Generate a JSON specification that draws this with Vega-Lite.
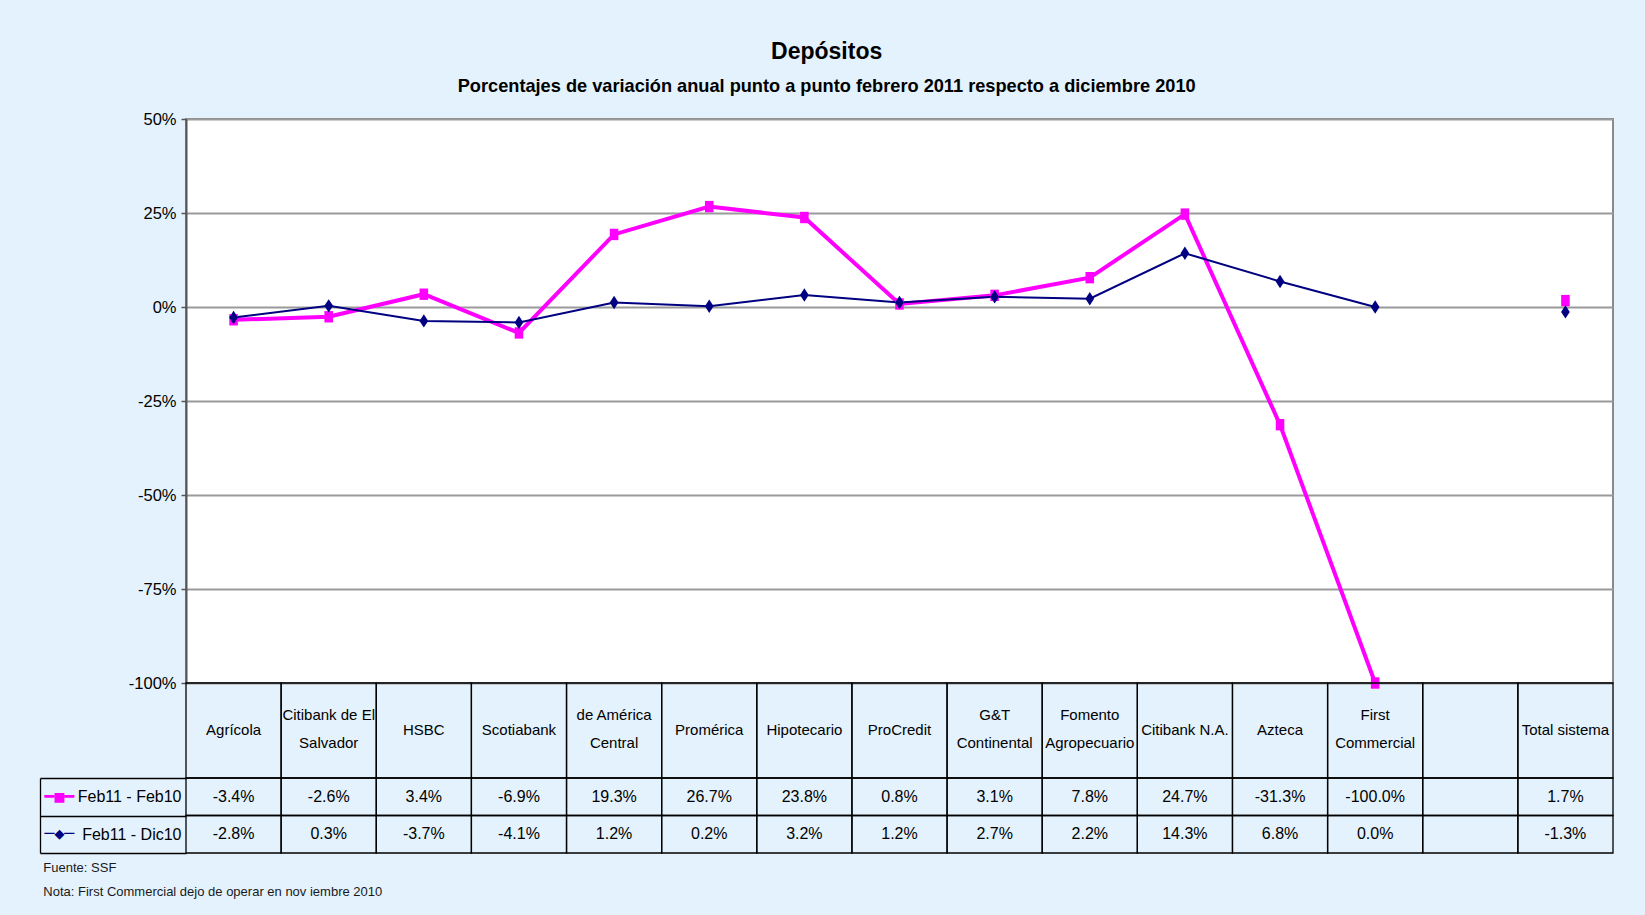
{
  "$schema": "https://vega.github.io/schema/vega-lite/v6.json",
  "background": "#e3f2fd",
  "padding": {"left": 39, "top": 40, "right": 32, "bottom": 16},
  "bounds": "flush",
  "title": {
    "text": "Depósitos",
    "subtitle": "Porcentajes de variación anual punto a punto febrero 2011 respecto a diciembre 2010",
    "anchor": "middle",
    "frame": "bounds",
    "font": "Liberation Sans",
    "subtitleFont": "Liberation Sans",
    "fontSize": 23,
    "fontWeight": "bold",
    "subtitleFontSize": 18.2,
    "subtitleFontWeight": "bold",
    "color": "black",
    "subtitleColor": "black",
    "subtitlePadding": 14,
    "offset": 15
  },
  "datasets": {
    "banks": [
      {"bank": "Agrícola", "serie": "Feb11 - Feb10", "value": -3.4},
      {"bank": "Citibank de El\nSalvador", "serie": "Feb11 - Feb10", "value": -2.6},
      {"bank": "HSBC", "serie": "Feb11 - Feb10", "value": 3.4},
      {"bank": "Scotiabank", "serie": "Feb11 - Feb10", "value": -6.9},
      {"bank": "de América\nCentral", "serie": "Feb11 - Feb10", "value": 19.3},
      {"bank": "Promérica", "serie": "Feb11 - Feb10", "value": 26.7},
      {"bank": "Hipotecario", "serie": "Feb11 - Feb10", "value": 23.8},
      {"bank": "ProCredit", "serie": "Feb11 - Feb10", "value": 0.8},
      {"bank": "G&T\nContinental", "serie": "Feb11 - Feb10", "value": 3.1},
      {"bank": "Fomento\nAgropecuario", "serie": "Feb11 - Feb10", "value": 7.8},
      {"bank": "Citibank N.A.", "serie": "Feb11 - Feb10", "value": 24.7},
      {"bank": "Azteca", "serie": "Feb11 - Feb10", "value": -31.3},
      {"bank": "First\nCommercial", "serie": "Feb11 - Feb10", "value": -100.0},
      {"bank": " ", "serie": "Feb11 - Feb10", "value": null},
      {"bank": "Total sistema", "serie": "Feb11 - Feb10", "value": 1.7},
      {"bank": "Agrícola", "serie": "Feb11 - Dic10", "value": -2.8},
      {"bank": "Citibank de El\nSalvador", "serie": "Feb11 - Dic10", "value": 0.3},
      {"bank": "HSBC", "serie": "Feb11 - Dic10", "value": -3.7},
      {"bank": "Scotiabank", "serie": "Feb11 - Dic10", "value": -4.1},
      {"bank": "de América\nCentral", "serie": "Feb11 - Dic10", "value": 1.2},
      {"bank": "Promérica", "serie": "Feb11 - Dic10", "value": 0.2},
      {"bank": "Hipotecario", "serie": "Feb11 - Dic10", "value": 3.2},
      {"bank": "ProCredit", "serie": "Feb11 - Dic10", "value": 1.2},
      {"bank": "G&T\nContinental", "serie": "Feb11 - Dic10", "value": 2.7},
      {"bank": "Fomento\nAgropecuario", "serie": "Feb11 - Dic10", "value": 2.2},
      {"bank": "Citibank N.A.", "serie": "Feb11 - Dic10", "value": 14.3},
      {"bank": "Azteca", "serie": "Feb11 - Dic10", "value": 6.8},
      {"bank": "First\nCommercial", "serie": "Feb11 - Dic10", "value": 0.0},
      {"bank": " ", "serie": "Feb11 - Dic10", "value": null},
      {"bank": "Total sistema", "serie": "Feb11 - Dic10", "value": -1.3}
    ],
    "cols": [
      {"bank": "Agrícola"}, {"bank": "Citibank de El\nSalvador"}, {"bank": "HSBC"}, {"bank": "Scotiabank"},
      {"bank": "de América\nCentral"}, {"bank": "Promérica"}, {"bank": "Hipotecario"}, {"bank": "ProCredit"},
      {"bank": "G&T\nContinental"}, {"bank": "Fomento\nAgropecuario"}, {"bank": "Citibank N.A."}, {"bank": "Azteca"},
      {"bank": "First\nCommercial"}, {"bank": " "}, {"bank": "Total sistema"}
    ]
  },
  "spacing": 0,
  "vconcat": [
    {
      "width": 1427,
      "height": 564,
      "view": {"stroke": "#8a8a8a", "strokeWidth": 2, "fill": "white"},
      "data": {"name": "banks"},
      "transform": [{"filter": "isValid(datum.value)"}],
      "encoding": {
        "x": {
          "field": "bank", "type": "nominal", "sort": null,
          "scale": {"type": "point", "padding": 0.5, "domain": ["Agrícola", "Citibank de El\nSalvador", "HSBC", "Scotiabank", "de América\nCentral", "Promérica", "Hipotecario", "ProCredit", "G&T\nContinental", "Fomento\nAgropecuario", "Citibank N.A.", "Azteca", "First\nCommercial", " ", "Total sistema"]},
          "axis": null
        },
        "y": {
          "field": "value", "type": "quantitative",
          "scale": {"domain": [-100, 50], "nice": false, "zero": false},
          "axis": {
            "title": null,
            "values": [-100, -75, -50, -25, 0, 25, 50],
            "labelExpr": "datum.value + '%'",
            "labelFont": "Liberation Sans",
            "labelFontSize": 16.5,
            "labelColor": "black",
            "labelPadding": 5,
            "grid": true,
            "gridColor": "#9a9a9a",
            "gridWidth": 1.8,
            "domainColor": "#555555",
            "domainWidth": 2,
            "tickColor": "#555555",
            "tickSize": 5,
            "tickWidth": 1.5
          }
        }
      },
      "layer": [
        {
          "transform": [{"filter": "datum.serie == 'Feb11 - Feb10' && datum.bank != 'Total sistema'"}],
          "mark": {"type": "line", "color": "#ff00ff", "strokeWidth": 4}
        },
        {
          "transform": [{"filter": "datum.serie == 'Feb11 - Dic10' && datum.bank != 'Total sistema'"}],
          "mark": {"type": "line", "color": "#000080", "strokeWidth": 2}
        },
        {
          "transform": [{"filter": "datum.serie == 'Feb11 - Feb10'"}],
          "mark": {"type": "point", "filled": true, "opacity": 1, "color": "#ff00ff", "shape": "M-0.75,-1H0.75V1H-0.75Z", "size": 130}
        },
        {
          "transform": [{"filter": "datum.serie == 'Feb11 - Dic10'"}],
          "mark": {"type": "point", "filled": true, "opacity": 1, "color": "#000080", "shape": "M0,-1L0.65,0L0,1L-0.65,0Z", "size": 180}
        }
      ]
    },
    {
      "width": 1427,
      "height": 95,
      "view": {"stroke": null},
      "data": {"name": "cols"},
      "encoding": {
        "x": {
          "field": "bank", "type": "nominal", "sort": null,
          "scale": {"type": "band", "paddingInner": 0, "paddingOuter": 0, "domain": ["Agrícola", "Citibank de El\nSalvador", "HSBC", "Scotiabank", "de América\nCentral", "Promérica", "Hipotecario", "ProCredit", "G&T\nContinental", "Fomento\nAgropecuario", "Citibank N.A.", "Azteca", "First\nCommercial", " ", "Total sistema"]},
          "axis": null
        }
      },
      "layer": [
        {"mark": {"type": "rect", "fillOpacity": 0, "stroke": "black", "strokeWidth": 1.3}},
        {
          "transform": [{"filter": "indexof(datum.bank, '\\n') < 0"}],
          "mark": {"type": "text", "fontSize": 15, "color": "black", "baseline": "middle", "dy": -1, "font": "Liberation Sans"},
          "encoding": {"text": {"field": "bank"}}
        },
        {
          "transform": [{"filter": "indexof(datum.bank, '\\n') >= 0"}],
          "mark": {"type": "text", "lineBreak": "\n", "lineHeight": 28, "fontSize": 15, "color": "black", "baseline": "middle", "dy": -16, "font": "Liberation Sans"},
          "encoding": {"text": {"field": "bank"}}
        }
      ]
    },
    {
      "width": 1427,
      "height": 75,
      "view": {"stroke": null},
      "data": {"name": "banks"},
      "title": {
        "text": ["Fuente: SSF", "Nota: First Commercial dejo de operar en nov iembre 2010"],
        "orient": "bottom",
        "anchor": "start",
        "frame": "bounds",
        "font": "Liberation Sans",
        "fontSize": 13,
        "fontWeight": "normal",
        "color": "#1a1a1a",
        "lineHeight": 24,
        "offset": 8,
        "dx": 4
      },
      "transform": [
        {"calculate": "isValid(datum.value) ? replace(format(datum.value, '.1f'), '\u2212', '-') + '%' : ''", "as": "label"}
      ],
      "encoding": {
        "x": {
          "field": "bank", "type": "nominal", "sort": null,
          "scale": {"type": "band", "paddingInner": 0, "paddingOuter": 0, "domain": ["Agrícola", "Citibank de El\nSalvador", "HSBC", "Scotiabank", "de América\nCentral", "Promérica", "Hipotecario", "ProCredit", "G&T\nContinental", "Fomento\nAgropecuario", "Citibank N.A.", "Azteca", "First\nCommercial", " ", "Total sistema"]},
          "axis": null
        }
      },
      "layer": [
        {
          "mark": {"type": "rect", "fillOpacity": 0, "stroke": "black", "strokeWidth": 1.3},
          "encoding": {
            "y": {
              "field": "serie", "type": "nominal", "sort": null,
              "scale": {"type": "band", "paddingInner": 0, "paddingOuter": 0, "domain": ["Feb11 - Feb10", "Feb11 - Dic10"]},
              "axis": {
                "title": null,
                "orient": "left",
                "offset": 146,
                "domain": true,
                "domainColor": "black",
                "domainWidth": 1.3,
                "ticks": true,
                "tickBand": "extent",
                "tickSize": -146,
                "tickColor": "black",
                "tickWidth": 1.3,
                "labels": true,
                "labelAlign": "right",
                "labelBaseline": "middle",
                "labelPadding": 5,
                "labelFont": "Liberation Sans",
                "labelFontSize": 16,
                "labelColor": "black",
                "grid": false
              }
            }
          }
        },
        {
          "mark": {"type": "text", "fontSize": 16, "color": "black", "baseline": "middle", "font": "Liberation Sans"},
          "encoding": {
            "text": {"field": "label"},
            "y": {
              "field": "serie", "type": "nominal", "sort": null,
              "scale": {"type": "band", "paddingInner": 0, "paddingOuter": 0, "domain": ["Feb11 - Feb10", "Feb11 - Dic10"]},
              "axis": {
                "title": null,
                "orient": "left",
                "offset": 146,
                "domain": false,
                "ticks": false,
                "labels": true,
                "labelAlign": "left",
                "labelBaseline": "middle",
                "labelPadding": -4,
                "labelExpr": "datum.value == 'Feb11 - Feb10' ? '━■━' : '─◆─'",
                "labelFont": "DejaVu Sans Mono",
                "labelFontSize": 16.5,
                "labelColor": {"condition": {"test": "datum.value == 'Feb11 - Feb10'", "value": "#ff00ff"}, "value": "#000080"},
                "grid": false
              }
            }
          }
        }
      ],
      "resolve": {"scale": {"y": "independent"}}
    }
  ]
}
